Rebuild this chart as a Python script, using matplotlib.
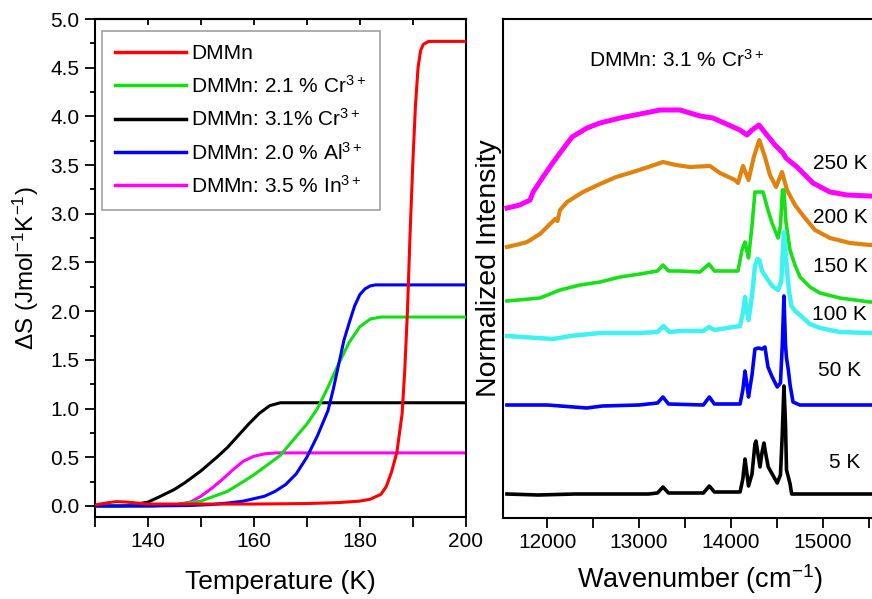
import numpy as np
import matplotlib
matplotlib.use("Agg")
import matplotlib.pyplot as plt
from matplotlib.ticker import MultipleLocator, FormatStrFormatter

plt.rcParams['font.family'] = ['Liberation Sans', 'DejaVu Sans']
plt.rcParams['mathtext.fontset'] = 'custom'
plt.rcParams['mathtext.rm'] = 'Liberation Sans'
plt.rcParams['mathtext.it'] = 'Liberation Sans:italic'
plt.rcParams['mathtext.bf'] = 'Liberation Sans:bold'

# ---------------- Left panel data: entropy change ----------------
labels_left = ["DMMn", "DMMn: 2.1 % Cr$^{3+}$", "DMMn: 3.1% Cr$^{3+}$",
               "DMMn: 2.0 % Al$^{3+}$", "DMMn: 3.5 % In$^{3+}$"]
colors_left = ["#ff0000", "#10e010", "#000000", "#0000ff", "#ff00ff"]

T_red = [130, 132, 134, 136, 138, 140, 150, 160, 170, 176, 180, 182, 184, 185, 186,
         187, 188, 188.5, 189, 189.5, 190, 190.5, 191, 191.5, 192, 193, 195, 200]
S_red = [0.01, 0.03, 0.045, 0.04, 0.03, 0.02, 0.02, 0.02, 0.025, 0.035, 0.05, 0.07, 0.12, 0.2, 0.35,
         0.55, 0.95, 1.4, 2.0, 2.8, 3.5, 4.1, 4.5, 4.68, 4.74, 4.77, 4.77, 4.77]

T_green = [130, 140, 145, 150, 152, 155, 158, 160, 163, 165, 167, 170, 172, 174, 176,
           178, 180, 182, 184, 200]
S_green = [0.0, 0.0, 0.01, 0.05, 0.09, 0.15, 0.25, 0.32, 0.44, 0.52, 0.65, 0.84, 1.0, 1.22, 1.46,
           1.68, 1.84, 1.92, 1.94, 1.94]

T_black = [130, 135, 137, 140, 142, 145, 147, 150, 153, 155, 157, 159, 161, 163, 165, 200]
S_black = [0.0, 0.0, 0.01, 0.04, 0.09, 0.17, 0.24, 0.36, 0.5, 0.6, 0.72, 0.84, 0.95, 1.03, 1.06, 1.06]

T_blue = [130, 140, 148, 152, 155, 158, 160, 162, 164, 166, 168, 170, 172, 174, 175, 176,
          177, 178, 179, 180, 181, 182, 183, 184, 200]
S_blue = [0.0, 0.0, 0.005, 0.015, 0.03, 0.05, 0.075, 0.1, 0.15, 0.22, 0.33, 0.5, 0.72, 0.98, 1.2, 1.45,
          1.7, 1.88, 2.05, 2.17, 2.23, 2.26, 2.27, 2.27, 2.27]

T_pink = [130, 140, 145, 148, 150, 152, 154, 156, 158, 160, 162, 164, 200]
S_pink = [0.0, 0.0, 0.01, 0.04, 0.1, 0.18, 0.27, 0.37, 0.46, 0.51, 0.535, 0.545, 0.545]

# ---------------- Right panel data: spectra ----------------
temps = ["5 K", "50 K", "100 K", "150 K", "200 K", "250 K"]
colors_right = ["#000000", "#0000ff", "#3ef2f2", "#18e018", "#e0820e", "#ff00ff"]
offsets = [24, 113, 182, 217, 271, 310]

wn_5 = [11560, 11900, 12300, 12700, 13100, 13200, 13260, 13320, 13500, 13700, 13765, 13820, 14000,
        14100, 14130, 14154, 14175, 14192, 14230, 14262, 14273, 14295, 14317, 14340, 14360, 14380,
        14407, 14450, 14505, 14540, 14560, 14578, 14595, 14606, 14626, 14645, 14662, 14750, 15000,
        15200, 15800]
I_5 = [0, -1, 0, 0, 0, 1, 7, 1, 1, 1, 8, 2, 2,
       2, 15, 35, 20, 8, 20, 50, 53, 40, 27, 42, 51, 40,
       27, 20, 11, 19, 60, 108, 70, 24, 17, 10, 0, 0, 0,
       0, 0]

wn_50 = [11560, 12000, 12430, 12600, 13000, 13100, 13200, 13260, 13320, 13700, 13765, 13820, 14100,
         14130, 14154, 14175, 14192, 14230, 14262, 14300, 14340, 14371, 14404, 14450, 14505, 14540,
         14560, 14578, 14595, 14606, 14626, 14645, 14677, 14750, 15000, 15800]
I_50 = [0, 0, -3, -1, 0, 1, 2, 8, 1, 0, 8, 1, 1,
        15, 34, 20, 8, 30, 56, 57, 56, 58, 38, 28, 18, 22,
        60, 109, 60, 47, 35, 20, 3, 0, 0, 0]

wn_100 = [11560, 12063, 12250, 12574, 13010, 13200, 13265, 13330, 13445, 13700, 13761, 13820, 14099,
          14130, 14154, 14175, 14192, 14230, 14262, 14290, 14309, 14340, 14404, 14450, 14514, 14550,
          14565, 14578, 14595, 14611, 14633, 14660, 14700, 14753, 14860, 14971, 15188, 15515, 15800]
I_100 = [0, -3, 0, 3, 3, 4, 10, 4, 5, 5, 9, 6, 10,
         22, 39, 25, 16, 40, 70, 77, 76, 65, 56, 50, 46, 55,
         85, 104, 85, 66, 45, 30, 25, 21, 12, 8, 4, 3, 3]

wn_150 = [11560, 11920, 12138, 12356, 12574, 12792, 13010, 13200, 13260, 13320, 13445, 13663, 13761,
          13820, 13881, 14077, 14121, 14154, 14175, 14192, 14230, 14262, 14309, 14350, 14404, 14448,
          14514, 14540, 14562, 14578, 14600, 14644, 14698, 14753, 14862, 14971, 15188, 15515, 15800]
I_150 = [0, 3, 11, 16, 19, 24, 27, 30, 36, 30, 30, 29, 37,
         30, 30, 30, 51, 59, 50, 43, 75, 109, 109, 109, 91, 78,
         63, 75, 111, 111, 79, 51, 36, 24, 14, 8, 3, -1, -1]

wn_200 = [11560, 11700, 11779, 11920, 12029, 12084, 12110, 12138, 12215, 12300, 12389, 12574, 12750,
          12933, 13100, 13260, 13400, 13554, 13772, 13881, 14045, 14077, 14132, 14192, 14250, 14309,
          14371, 14426, 14492, 14557, 14611, 14698, 14807, 14916, 15080, 15297, 15515, 15800]
I_200 = [0, 3, 5, 13, 23, 28, 26, 37, 45, 50, 55, 63, 70,
         75, 80, 85, 82, 80, 81, 74, 67, 64, 81, 67, 90, 107,
         90, 72, 60, 75, 57, 42, 29, 17, 9, 4, 2, 2]

wn_250 = [11561, 11700, 11812, 11845, 11953, 12050, 12138, 12269, 12432, 12574, 12792, 13010, 13228,
          13445, 13663, 13804, 14000, 14099, 14175, 14230, 14306, 14393, 14481, 14535, 14568, 14600,
          14720, 14894, 15080, 15265, 15515, 15800]
I_250 = [0, 3, 8, 16, 31, 44, 55, 71, 80, 85, 90, 94, 98,
         98, 92, 90, 82, 78, 73, 78, 83, 73, 63, 58, 55, 50,
         41, 25, 16, 13, 12, 12]

# ---------------- Figure ----------------
fig = plt.figure(figsize=(8.72, 5.99), dpi=100)
axL = fig.add_axes([95 / 872, 1 - 516.7 / 599, (465.7 - 95) / 872, (516.7 - 19) / 599])
axR = fig.add_axes([503.3 / 872, 1 - 518 / 599, (897 - 503.3) / 872, (518 - 19) / 599])

series = [(T_red, S_red), (T_green, S_green), (T_black, S_black), (T_blue, S_blue), (T_pink, S_pink)]
zord = [6, 4, 3, 5, 2]
for (T, S), c, lab, z in zip(series, colors_left, labels_left, zord):
    axL.plot(T, S, color=c, lw=2.2, label=lab, zorder=z)

axL.set_xlim(130, 200)
axL.set_ylim(-0.11, 5.0)
axL.xaxis.set_major_locator(MultipleLocator(20))
axL.xaxis.set_minor_locator(MultipleLocator(10))
axL.yaxis.set_major_locator(MultipleLocator(0.5))
axL.yaxis.set_minor_locator(MultipleLocator(0.25))
axL.yaxis.set_major_formatter(FormatStrFormatter('%.1f'))
axL.tick_params(which='major', direction='out', length=7, width=1.3, labelsize=15, pad=4)
axL.tick_params(which='minor', direction='out', length=3.5, width=1.3)
axL.tick_params(axis='x', which='minor', length=7)
sec = axL.secondary_xaxis('top')
sec.xaxis.set_major_locator(MultipleLocator(10))
sec.tick_params(direction='in', length=4, width=1.3, labeltop=False)
sec.spines['top'].set_linewidth(1.5)
for sp in axL.spines.values():
    sp.set_linewidth(1.5)
axL.set_xlabel("Temperature (K)", fontsize=19, labelpad=14)
axL.set_ylabel("ΔS (Jmol$^{-1}$K$^{-1}$)", fontsize=17.5, labelpad=7)

leg = axL.legend(loc='upper left', bbox_to_anchor=(0.018, 0.9765), fontsize=15, frameon=True,
                 fancybox=False, edgecolor='#888888', handlelength=3.4, handletextpad=0.25,
                 labelspacing=0.55, borderpad=0.65, borderaxespad=0.0)
leg.get_frame().set_linewidth(1.2)
for l in leg.get_lines():
    l.set_linewidth(2.5)

# Right panel
spectra = [(wn_5, I_5), (wn_50, I_50), (wn_100, I_100), (wn_150, I_150), (wn_200, I_200), (wn_250, I_250)]
widths = [2.6, 2.6, 3.2, 2.6, 3.0, 3.6]
order = [5, 4, 2, 3, 1, 0]
for i in order:
    wn, I = spectra[i]
    axR.plot(wn, np.array(I) + offsets[i], color=colors_right[i], lw=widths[i], zorder=2 + (5 - i))

axR.set_xlim(11520, 15810)
axR.set_ylim(0, 499)
axR.xaxis.set_major_locator(MultipleLocator(1000))
axR.xaxis.set_minor_locator(MultipleLocator(500))
axR.set_yticks([])
axR.tick_params(which='major', direction='out', length=7, width=1.3, labelsize=15, pad=4)
axR.tick_params(which='minor', direction='out', length=7, width=1.3)
for sp in axR.spines.values():
    sp.set_linewidth(1.5)
axR.set_xlabel("Wavenumber (cm$^{-1}$)", fontsize=19.5, labelpad=7)
axR.set_ylabel("Normalized Intensity", fontsize=20.5, labelpad=1)

axR.text(13405, 458, "DMMn: 3.1 % Cr$^{3+}$", fontsize=15, ha='center', va='center')
label_pos = [(15240, 55), (15188, 148), (15188, 203), (15188, 251), (15188, 301), (15188, 355)]
for t, (x, y) in zip(temps, label_pos):
    axR.text(x, y, t, fontsize=15, ha='center', va='center')

fig.savefig("out.png", dpi=100)
